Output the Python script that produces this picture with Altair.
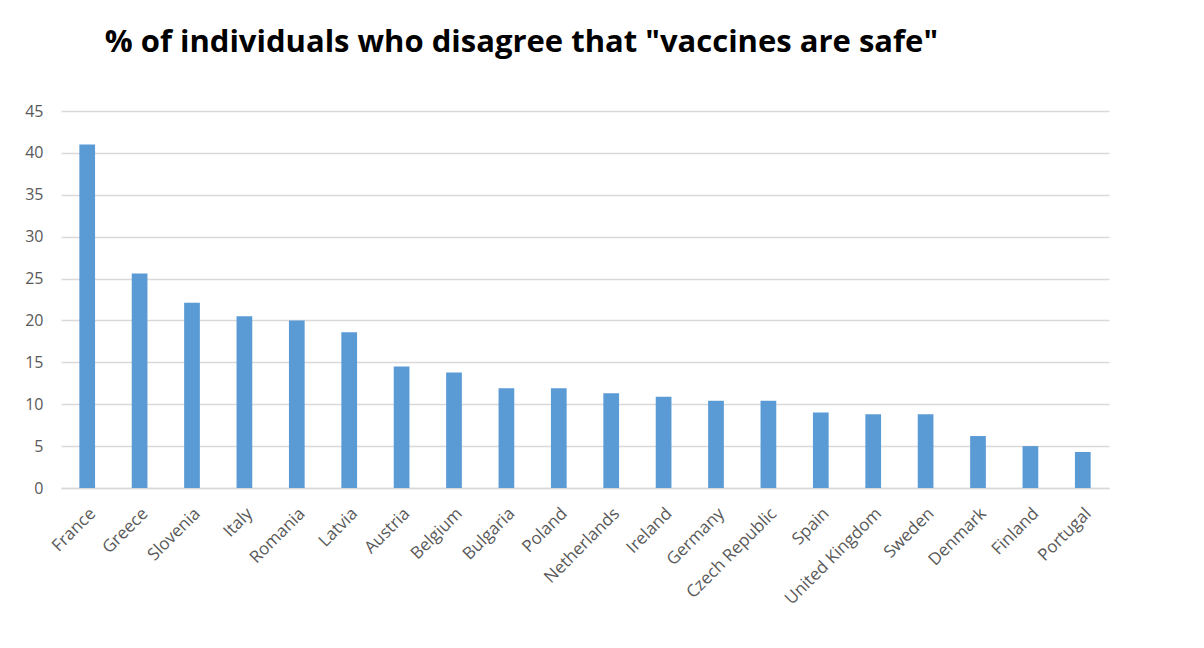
import altair as alt
import pandas as pd

countries = ["France", "Greece", "Slovenia", "Italy", "Romania", "Latvia", "Austria",
             "Belgium", "Bulgaria", "Poland", "Netherlands", "Ireland", "Germany",
             "Czech Republic", "Spain", "United Kingdom", "Sweden", "Denmark",
             "Finland", "Portugal"]
values = [41.0, 25.6, 22.1, 20.5, 20.0, 18.6, 14.5, 13.8, 11.9, 11.9, 11.3, 10.9,
          10.4, 10.4, 9.0, 8.8, 8.8, 6.2, 5.0, 4.3]
y_ticks = [0, 5, 10, 15, 20, 25, 30, 35, 40, 45]

df = pd.DataFrame({"country": countries, "value": values})

FONT = "Open Sans"

chart = alt.Chart(df).mark_bar(color="#5b9bd5").encode(
    x=alt.X("country:N", sort=countries, title=None,
            scale=alt.Scale(paddingInner=0.7, paddingOuter=0.35),
            axis=alt.Axis(labelAngle=-45, labelFontSize=17, labelColor="#595959",
                          labelFont=FONT, ticks=False, grid=False,
                          domainColor="#d9d9d9", domainWidth=1.5, labelPadding=17)),
    y=alt.Y("value:Q", title=None,
            scale=alt.Scale(domain=[0, 45], nice=False),
            axis=alt.Axis(values=y_ticks, labelFontSize=16, labelColor="#595959",
                          labelFont=FONT, ticks=False, domain=False,
                          gridColor="#d9d9d9", gridWidth=1.5, labelPadding=18)),
).properties(
    width=1048, height=377,
    background="#ffffff",
    autosize=alt.AutoSizeParams(type="none"),
    padding={"left": 53, "top": 103, "right": 87, "bottom": 152},
    title=alt.TitleParams('% of individuals who disagree that "vaccines are safe"',
                          anchor="start", dx=80, offset=44, fontSize=31,
                          font=FONT, fontWeight="bold", color="#000000"),
).configure_view(stroke="transparent", strokeWidth=0)

chart.save("out.html", embed_options={"renderer": "svg", "actions": False})
